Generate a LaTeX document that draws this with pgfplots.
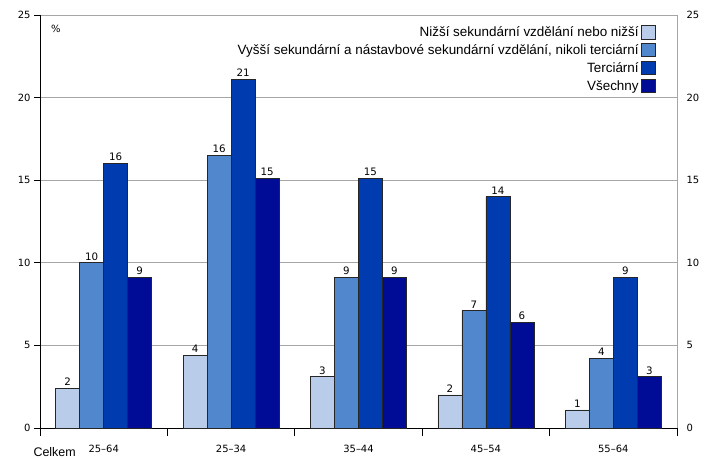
\documentclass[border=0pt]{standalone}
\usepackage{pgfplots}
\pgfplotsset{compat=1.18}
\usepackage{fontspec}
\setmainfont{Liberation Sans}
\newfontfamily\tickfont{DejaVu Sans}
\definecolor{cA}{RGB}{185,205,235}
\definecolor{cB}{RGB}{80,135,205}
\definecolor{cC}{RGB}{0,60,175}
\definecolor{cD}{RGB}{0,12,150}
\begin{document}
\begin{tikzpicture}
\useasboundingbox (-40bp,-31bp) rectangle (668bp,428bp);
\begin{axis}[
  scale only axis, width=637bp, height=413bp,
  xmin=-0.5, xmax=4.5, ymin=0, ymax=25,
  axis x line*=bottom, axis y line*=left,
  axis line style={-, black, line width=0.8bp},
  xtick={0,1,2,3,4},
  xticklabels={25\textendash64,25\textendash34,35\textendash44,45\textendash54,55\textendash64},
  major x tick style={draw=none},
  minor xtick={-0.5,0.5,1.5,2.5,3.5,4.5},
  minor x tick style={black, line width=0.8bp},
  minor tick length=8bp,
  ytick={0,5,...,25},
  major tick length=6bp,
  tick align=outside,
  y tick style={black, line width=0.8bp},
  ymajorgrids, grid style={gray!70, line width=0.8bp},
  ticklabel style={font=\tickfont\fontsize{10}{12}\selectfont},
  /pgf/number format/assume math mode=true,
  xticklabel style={yshift=-8bp},
  ybar, bar width=24bp,
  point meta=explicit symbolic,
  nodes near coords,
  nodes near coords style={font=\tickfont\fontsize{10.3}{12}\selectfont, black, yshift=-1bp},
  every axis plot/.append style={draw=black!85, line width=0.6bp},
  legend style={at={(rel axis cs:0.967,0.982)}, anchor=north east, draw=none, fill=none,
    font=\fontsize{13.5}{16}\selectfont, row sep=2.5bp, inner xsep=0pt},
  legend cell align=right,
  legend plot pos=right,
  legend image code/.code={\draw[#1, draw=black!85, line width=0.6bp] (0bp,-6.5bp) rectangle (14.5bp,7bp);},
  clip=false,
]
\addplot[fill=cA, bar shift=-36bp] table[x=x,y=y,meta=l] {
x y l
0 2.4 2
1 4.4 4
2 3.1 3
3 2.0 2
4 1.1 1
};
\addplot[fill=cB, bar shift=-12bp] table[x=x,y=y,meta=l] {
x y l
0 10.0 10
1 16.5 16
2 9.1 9
3 7.1 7
4 4.2 4
};
\addplot[fill=cC, bar shift=12bp] table[x=x,y=y,meta=l] {
x y l
0 16.0 16
1 21.1 21
2 15.1 15
3 14.0 14
4 9.1 9
};
\addplot[fill=cD, bar shift=36bp] table[x=x,y=y,meta=l] {
x y l
0 9.1 9
1 15.1 15
2 9.1 9
3 6.4 6
4 3.1 3
};
\legend{Nižší sekundární vzdělání nebo nižší,
  {Vyšší sekundární a nástavbové sekundární vzdělání, nikoli terciární},
  Terciární, Všechny}
\node[anchor=north west, font=\tickfont\fontsize{10}{12}\selectfont] at (rel axis cs:0.012,0.985) {\%};
\node[anchor=base west, font=\fontsize{12.5}{14}\selectfont] at ([xshift=-10bp,yshift=-28bp]rel axis cs:0,0) {Celkem};
\end{axis}
\begin{axis}[
  scale only axis, width=637bp, height=413bp,
  xmin=-0.5, xmax=4.5, ymin=0, ymax=25,
  axis x line=none, axis y line*=right,
  axis line style={-, gray!70, line width=0.8bp},
  ytick={0,5,...,25}, major tick length=0bp,
  yticklabel style={font=\tickfont\fontsize{10}{12}\selectfont, xshift=6bp},
  /pgf/number format/assume math mode=true,
]
\addplot[draw=none, forget plot] coordinates {(0,0)};
\end{axis}
\end{tikzpicture}
\end{document}
